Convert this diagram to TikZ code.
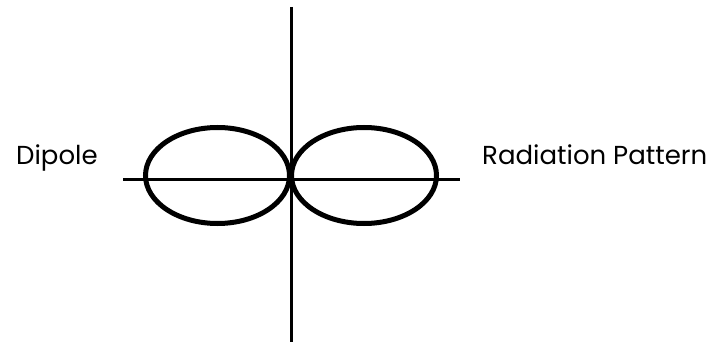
\documentclass[tikz,border=0pt]{standalone}
\usepackage{fontspec}
\setmainfont{Poppins}
\begin{document}
\begin{tikzpicture}[x=1pt,y=-1pt,
  axis/.style={line width=3pt},
  lobe/.style={line width=5pt},
  lbl/.style={anchor=base west,inner sep=0pt,font=\fontsize{26}{30}\selectfont}]
\useasboundingbox[fill=white] (0,0) rectangle (708,347);
\coordinate (vt) at (291,7);
\coordinate (vb) at (291,342);
\coordinate (hl) at (123,180);
\coordinate (hr) at (460,180);
\draw[axis] (vt) -- (vb);
\draw[axis] (hl) -- (hr);
\draw[lobe] (217.5,175.5) ellipse [x radius=72, y radius=48];
\draw[lobe] (364,175.5) ellipse [x radius=72.5, y radius=48];
\node[lbl] (dip) at (16,165) {Dipole};
\node[lbl] (rad) at (482,165) {Radiation Pattern};
\end{tikzpicture}
\end{document}
